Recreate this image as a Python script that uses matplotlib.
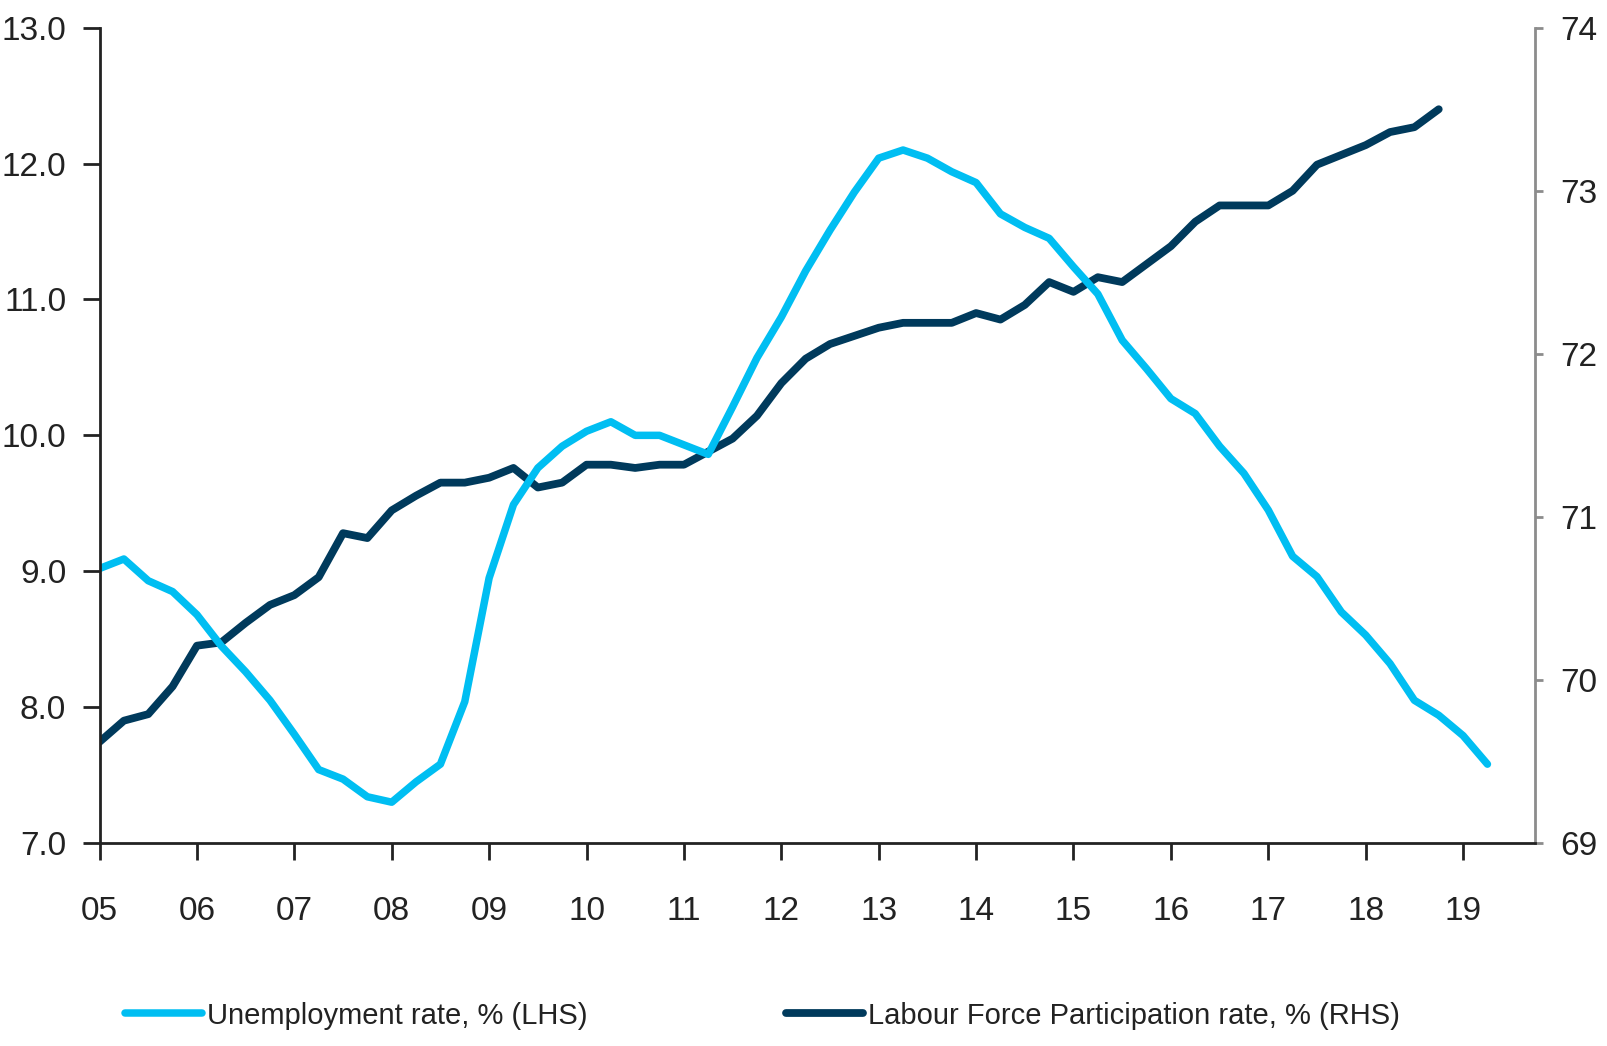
import matplotlib.pyplot as plt
import numpy as np

# quarterly series, first point 2005Q1
start_year = 2005
unemployment = [
    9.02, 9.09, 8.93, 8.85, 8.68, 8.45, 8.26, 8.05, 7.80, 7.54, 7.47, 7.34,
    7.30, 7.45, 7.58, 8.04, 8.95, 9.49, 9.76, 9.92, 10.03, 10.10, 10.00, 10.00,
    9.93, 9.86, 10.21, 10.57, 10.87, 11.21, 11.51, 11.79, 12.04, 12.10, 12.04, 11.94,
    11.86, 11.63, 11.53, 11.45, 11.24, 11.04, 10.70, 10.49, 10.27, 10.16, 9.92, 9.72,
    9.45, 9.11, 8.96, 8.70, 8.53, 8.32, 8.05, 7.94, 7.79, 7.58,
]
participation = [
    69.62, 69.75, 69.79, 69.96, 70.21, 70.23, 70.35, 70.46, 70.52, 70.63, 70.90, 70.87,
    71.04, 71.13, 71.21, 71.21, 71.24, 71.30, 71.18, 71.21, 71.32, 71.32, 71.30, 71.32,
    71.32, 71.40, 71.48, 71.62, 71.82, 71.97, 72.06, 72.11, 72.16, 72.19, 72.19, 72.19,
    72.25, 72.21, 72.30, 72.44, 72.38, 72.47, 72.44, 72.55, 72.66, 72.81, 72.91, 72.91,
    72.91, 73.00, 73.16, 73.22, 73.28, 73.36, 73.39, 73.50,
]
year_ticks = list(range(2005, 2020))
year_labels = [f"{y % 100:02d}" for y in year_ticks]
lhs_ticks = [7.0, 8.0, 9.0, 10.0, 11.0, 12.0, 13.0]
rhs_ticks = [69, 70, 71, 72, 73, 74]

LIGHT = "#00BEF2"
DARK = "#003A5C"
INK = "#222222"

plt.rcParams["font.family"] = ["Liberation Sans", "DejaVu Sans"]

fig = plt.figure(figsize=(16.08, 10.46), dpi=100)
ax = fig.add_axes([0.0619, 0.1941, 0.8928, 0.7794])
ax2 = ax.twinx()

x_u = start_year + np.arange(len(unemployment)) / 4
x_p = start_year + np.arange(len(participation)) / 4

(l1,) = ax.plot(x_u, unemployment, color=LIGHT, lw=5.4, solid_capstyle="round",
                label="Unemployment rate, % (LHS)")
(l2,) = ax2.plot(x_p, participation, color=DARK, lw=5.6, solid_capstyle="round",
                 label="Labour Force Participation rate, % (RHS)")
ax.set_zorder(ax2.get_zorder() + 1)
ax.patch.set_visible(False)

ax.set_xlim(2005, 2019.74)
ax.set_ylim(7.0, 13.0)
ax2.set_ylim(69, 74)

ax.set_xticks(year_ticks)
ax.set_xticklabels(year_labels)
ax.set_yticks(lhs_ticks)
ax.set_yticklabels([f"{v:.1f}" for v in lhs_ticks])
ax2.set_yticks(rhs_ticks)
ax2.set_yticklabels([str(v) for v in rhs_ticks])

for a in (ax, ax2):
    a.spines["top"].set_visible(False)
ax.spines["right"].set_visible(False)
ax2.spines["left"].set_visible(False)
ax2.spines["bottom"].set_visible(False)
for side in ("left", "bottom"):
    ax.spines[side].set_linewidth(2)
    ax.spines[side].set_color(INK)
ax2.spines["right"].set_color("#8c8c8c")
ax2.spines["right"].set_linewidth(2)

ax.tick_params(axis="x", direction="out", length=12, width=2, color=INK,
               labelsize=24, pad=26, labelcolor=INK)
ax.tick_params(axis="y", direction="out", length=12, width=2, color=INK,
               labelsize=24, pad=12, labelcolor=INK)
ax2.tick_params(axis="y", direction="out", length=6, width=2, color="#8c8c8c",
                labelsize=24, pad=12, labelcolor=INK)

fig.legend(handles=[l1, l2], loc="center", bbox_to_anchor=(0.474, 0.029), ncol=2,
           frameon=False, fontsize=21, handlelength=2.65, handletextpad=0.17,
           columnspacing=6.8, labelcolor=INK)

fig.savefig("out.png", dpi=100)
